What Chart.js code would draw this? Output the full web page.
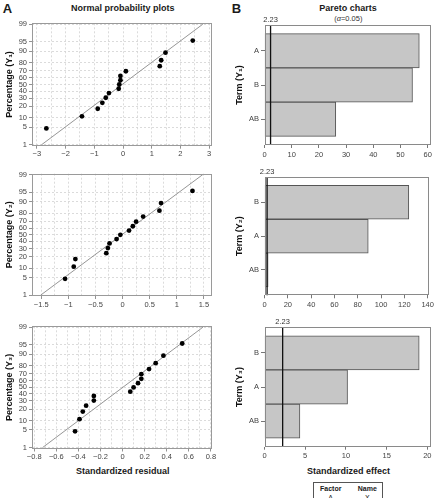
<!DOCTYPE html>
<html><head><meta charset="utf-8">
<script src="https://cdn.jsdelivr.net/npm/chart.js@4.4.0/dist/chart.umd.min.js"></script>
<style>
html,body{margin:0;padding:0;background:#fff;width:436px;height:498px;overflow:hidden;font-family:"Liberation Sans",Arial,sans-serif;}
canvas{position:absolute;}
.t{position:absolute;white-space:nowrap;color:#1a1a1a;transform:translate(-50%,-50%);line-height:1;}
.b{font-weight:bold;}
#legbox{position:absolute;left:312.5px;top:481.5px;width:70px;height:30px;border:1px solid #555;box-sizing:border-box;}
</style></head><body>
<div class="t b" style="left:7.5px;top:7.5px;font-size:13px;">A</div>
<div class="t b" style="left:122.7px;top:8.3px;font-size:9px;">Normal probability plots</div>
<div class="t b" style="left:236.5px;top:7.5px;font-size:13px;">B</div>
<div class="t b" style="left:348px;top:8.3px;font-size:9px;">Pareto charts</div>
<div class="t" style="left:348.3px;top:19.3px;font-size:7.5px;color:#333;">(<i>α</i>=0.05)</div>
<div class="t b" style="left:122.7px;top:470.7px;font-size:9px;">Standardized residual</div>
<div class="t b" style="left:348.4px;top:470.7px;font-size:9px;">Standardized effect</div>
<div id="legbox"></div>
<div class="t b" style="left:330.7px;top:487.7px;font-size:7px;">Factor</div>
<div class="t b" style="left:367.3px;top:487.7px;font-size:7px;">Name</div>
<div class="t" style="left:330.7px;top:496.7px;font-size:7px;">A</div>
<div class="t" style="left:367.3px;top:496.7px;font-size:7px;">X</div>

<canvas id="a1" width="222" height="149" style="left:0;top:13px"></canvas>
<canvas id="a2" width="222" height="148" style="left:0;top:163px"></canvas>
<canvas id="a3" width="222" height="148" style="left:0;top:316px"></canvas>
<canvas id="b1" width="214" height="149" style="left:222px;top:13px"></canvas>
<canvas id="b2" width="214" height="150" style="left:222px;top:163px"></canvas>
<canvas id="b3" width="214" height="150" style="left:222px;top:316px"></canvas>

<script>
// ---------------- DATA ----------------
// Normal probability plots (cumulative percentage of each ordered residual)
const probPct = [4.5, 11.0, 17.5, 24.0, 30.5, 37.0, 43.5, 50.0, 56.5, 63.0, 69.5, 76.0, 82.5, 89.0, 95.5];
const residY1 = [-2.67, -1.43, -0.88, -0.72, -0.60, -0.49, -0.15, -0.13, -0.09, -0.09, 0.10, 1.28, 1.33, 1.48, 2.43];
const residY2 = [-1.06, -0.90, -0.87, -0.30, -0.27, -0.24, -0.11, -0.04, 0.12, 0.19, 0.25, 0.38, 0.68, 0.71, 1.29];
const residY3 = [-0.43, -0.39, -0.36, -0.33, -0.26, -0.26, 0.07, 0.10, 0.14, 0.17, 0.17, 0.24, 0.30, 0.37, 0.54];
// fitted reference line: residual at 1 % and 99 %
const linePct = [1, 99];
const lineY1 = [-2.84, 2.78];
const lineY2 = [-1.51, 1.48];
const lineY3 = [-0.725, 0.728];
// tick labels
const probTicks = [1, 5, 10, 20, 30, 40, 50, 60, 70, 80, 90, 95, 99];
const xTicksA1 = [-3, -2, -1, 0, 1, 2, 3];
const xTicksA2 = [-1.5, -1, -0.5, 0, 0.5, 1, 1.5];
const xTicksA3 = [-0.8, -0.6, -0.4, -0.2, 0, 0.2, 0.4, 0.6, 0.8];

// Pareto charts (standardized effects)
const termsY1 = ['A', 'B', 'AB'];
const effectsY1 = [56.9, 54.4, 26.2];
const termsY2 = ['B', 'A', 'AB'];
const effectsY2 = [123.8, 89.0, 3.1];
const termsY3 = ['B', 'A', 'AB'];
const effectsY3 = [19.0, 10.2, 4.35];
const critValue = [2.23, 2.23, 2.23];
const xTicksB1 = [0, 10, 20, 30, 40, 50, 60];
const xTicksB2 = [0, 20, 40, 60, 80, 100, 120, 140];
const xTicksB3 = [0, 5, 10, 15, 20];

// ---------------- HELPERS ----------------
const FF = '"Liberation Sans", Arial, sans-serif';
Chart.defaults.font.family = FF;

function probit(p){
  const a=[-3.969683028665376e+01,2.209460984245205e+02,-2.759285104469687e+02,1.383577518672690e+02,-3.066479806614716e+01,2.506628277459239e+00];
  const b=[-5.447609879822406e+01,1.615858368580409e+02,-1.556989798598866e+02,6.680131188771972e+01,-1.328068155288572e+01];
  const c=[-7.784894002430293e-03,-3.223964580411365e-01,-2.400758277161838e+00,-2.549732539343734e+00,4.374664141464968e+00,2.938163982698783e+00];
  const d=[7.784695709041462e-03,3.224671290700398e-01,2.445134137142996e+00,3.754408661907416e+00];
  const pl=0.02425, ph=1-pl; let q,r;
  if(p<pl){q=Math.sqrt(-2*Math.log(p));return (((((c[0]*q+c[1])*q+c[2])*q+c[3])*q+c[4])*q+c[5])/((((d[0]*q+d[1])*q+d[2])*q+d[3])*q+1);}
  if(p>ph){q=Math.sqrt(-2*Math.log(1-p));return -(((((c[0]*q+c[1])*q+c[2])*q+c[3])*q+c[4])*q+c[5])/((((d[0]*q+d[1])*q+d[2])*q+d[3])*q+1);}
  q=p-0.5;r=q*q;return (((((a[0]*r+a[1])*r+a[2])*r+a[3])*r+a[4])*r+a[5])*q/(((((b[0]*r+b[1])*r+b[2])*r+b[3])*r+b[4])*r+1);
}

function frame(cb, area){
  return {
    pad:{left:0, top: area.t - cb.top, right: cb.left + cb.w - area.r, bottom:0},
    yW: area.l - cb.left,
    xH: cb.top + cb.h - area.b
  };
}

const boxPlugin = {
  id:'box',
  afterDraw(chart, args, opts){
    const {ctx, chartArea:a} = chart;
    ctx.save();
    ctx.strokeStyle = opts.color || '#888';
    ctx.lineWidth = 1;
    const l = Math.round(a.left)+0.5, t = Math.round(a.top)+0.5;
    const r = Math.round(a.right)-0.5, b = Math.round(a.bottom)-0.5;
    ctx.strokeRect(l, t, r-l, b-t);
    ctx.restore();
  }
};

const critPlugin = {
  id:'crit',
  afterDatasetsDraw(chart, args, opts){
    if (opts.value == null) return;
    const {ctx, chartArea:a} = chart;
    const x = chart.scales.x.getPixelForValue(opts.value);
    ctx.save();
    ctx.strokeStyle = '#111'; ctx.lineWidth = 1.3;
    ctx.beginPath(); ctx.moveTo(x, a.top); ctx.lineTo(x, a.bottom); ctx.stroke();
    ctx.fillStyle = '#333'; ctx.font = '7.5px ' + FF;
    ctx.textAlign = 'center'; ctx.textBaseline = 'middle';
    ctx.fillText(String(opts.value), x, a.top - 5.5);
    ctx.restore();
  }
};

const fmt = v => {
  const s = (+Math.abs(v).toFixed(2)).toString();
  return v < 0 ? '\u2212' + s : s;
};

function probChart(id, cb, area, resid, lineX, xMajor, xMin, xMax, yTitle){
  const f = frame(cb, area);
  const all = [];
  for (let i = 0; i < xMajor.length; i++){
    all.push(xMajor[i]);
    if (i < xMajor.length - 1) all.push((xMajor[i] + xMajor[i+1]) / 2);
  }
  const isMajor = v => xMajor.some(m => Math.abs(m - v) < 1e-9);
  new Chart(document.getElementById(id), {
    type:'scatter',
    data:{datasets:[
      {data: resid.map((x,i)=>({x, y: probit(probPct[i]/100)})), pointRadius:2.4, pointBackgroundColor:'#000', pointBorderWidth:0, order:0},
      {data: lineX.map((x,i)=>({x, y: probit(linePct[i]/100)})), showLine:true, pointRadius:0, borderColor:'#8a8a8a', borderWidth:0.9, order:1}
    ]},
    options:{
      responsive:false, animation:false, events:[],
      layout:{padding:f.pad},
      plugins:{legend:{display:false}, tooltip:{enabled:false}, box:{color:'#9a9a9a'}, crit:{value:null}},
      scales:{
        x:{type:'linear', min:xMin, max:xMax,
          afterBuildTicks: s => { s.ticks = all.map(v => ({value:v})); },
          afterFit: s => { s.height = f.xH; },
          ticks:{autoSkip:false, maxRotation:0, minRotation:0, padding:1, color:'#444', font:{size:7.5},
            callback:(v,i) => isMajor(all[i]) ? fmt(all[i]) : ''},
          grid:{color:'#d2d2d2', lineWidth:0.8, tickLength:3,
            tickColor: c => (c.tick && !isMajor(c.tick.value)) ? 'rgba(0,0,0,0)' : '#777'},
          border:{display:false, dash:[2,2]}},
        y:{type:'linear', min:-2.36, max:2.36,
          afterBuildTicks: s => { s.ticks = probTicks.map(p => ({value: probit(p/100)})); },
          afterFit: s => { s.width = f.yW; },
          ticks:{autoSkip:false, padding:2, color:'#444', font:{size:7.5},
            callback:(v,i) => String(probTicks[i])},
          grid:{color:'#d2d2d2', lineWidth:0.8, tickLength:3, tickColor:'#777'},
          border:{display:false, dash:[2,2]},
          title:{display:true, text:yTitle, color:'#111', font:{size:9, weight:'bold'}, padding:{top:4.6, bottom:0}}}
      }
    },
    plugins:[boxPlugin]
  });
}

function paretoChart(id, cb, area, terms, effects, xTicks, xMax, crit, yTitle){
  const f = frame(cb, area);
  new Chart(document.getElementById(id), {
    type:'bar',
    data:{datasets:[{
      data: terms.map((t,i) => ({x: effects[i], y: i + 1})),
      backgroundColor:'#c6c6c6', borderColor:'#555', borderWidth:1, borderSkipped:false,
      barPercentage:1, categoryPercentage:1
    }]},
    options:{
      indexAxis:'y', responsive:false, animation:false, events:[],
      layout:{padding:f.pad},
      plugins:{legend:{display:false}, tooltip:{enabled:false}, box:{color:'#8a8a8a'}, crit:{value:crit}},
      scales:{
        x:{type:'linear', min:0, max:xMax, offset:false,
          afterBuildTicks: s => { s.ticks = xTicks.map(v => ({value:v})); },
          afterFit: s => { s.height = f.xH; },
          ticks:{autoSkip:false, maxRotation:0, minRotation:0, padding:2, color:'#444', font:{size:7.5},
            callback:(v,i) => String(xTicks[i])},
          grid:{drawOnChartArea:false, offset:false, tickLength:3, tickColor:'#777'},
          border:{display:false}},
        y:{type:'linear', reverse:true, min:0.25, max:3.75, offset:false,
          afterBuildTicks: s => { s.ticks = terms.map((t,i) => ({value:i+1})); },
          afterFit: s => { s.width = f.yW; },
          ticks:{autoSkip:false, padding:2, color:'#444', font:{size:7.5},
            callback:(v,i) => terms[i]},
          grid:{drawOnChartArea:false, offset:false, tickLength:3.5, tickColor:'#777'},
          border:{display:false},
          title:{display:true, text:yTitle, color:'#111', font:{size:9, weight:'bold'}, padding:{top:12.3, bottom:0}}}
      }
    },
    plugins:[boxPlugin, critPlugin]
  });
}

probChart('a1', {left:0, top:13, w:222, h:149}, {l:32, t:23.3, r:212, b:145.7}, residY1, lineY1, xTicksA1, -3.17, 3.10, 'Percentage (Y\u2081)');
probChart('a2', {left:0, top:163, w:222, h:148}, {l:32, t:173.7, r:212, b:296}, residY2, lineY2, xTicksA2, -1.67, 1.65, 'Percentage (Y\u2082)');
probChart('a3', {left:0, top:316, w:222, h:148}, {l:32, t:326.3, r:212, b:448.5}, residY3, lineY3, xTicksA3, -0.82, 0.81, 'Percentage (Y\u2083)');

paretoChart('b1', {left:222, top:13, w:214, h:149}, {l:264.5, t:25, r:431, b:145}, termsY1, effectsY1, xTicksB1, 61.2, critValue[0], 'Term (Y\u2081)');
paretoChart('b2', {left:222, top:163, w:214, h:150}, {l:264.5, t:177, r:431, b:295.3}, termsY2, effectsY2, xTicksB2, 141.5, critValue[1], 'Term (Y\u2082)');
paretoChart('b3', {left:222, top:316, w:214, h:150}, {l:264.5, t:327.3, r:431, b:446.7}, termsY3, effectsY3, xTicksB3, 20.45, critValue[2], 'Term (Y\u2083)');
</script>
</body></html>
